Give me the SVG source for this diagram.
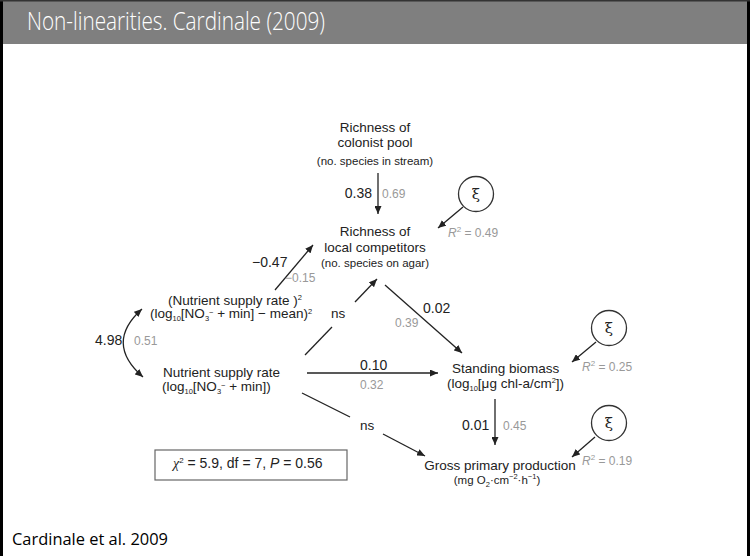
<svg xmlns="http://www.w3.org/2000/svg" width="750" height="556" viewBox="0 0 750 556">
<style>
.t{font-family:"Liberation Sans",Arial,sans-serif;fill:#222}
.m{font-size:13.5px}
.s{font-size:11.5px}
.n{font-size:14px}
.g{font-family:"Liberation Sans",Arial,sans-serif;font-size:12px;fill:#999}
.c{text-anchor:middle}
.ln{stroke:#222;stroke-width:1.3;fill:none}
.circ{stroke:#333;stroke-width:1.3;fill:none}
.xi{font-family:"DejaVu Serif","Liberation Serif",serif;font-size:15px;fill:#222;text-anchor:middle}
.slide{font-family:"Open Sans","Liberation Sans",sans-serif}
</style>
<defs>
<marker id="ah" markerUnits="userSpaceOnUse" markerWidth="9" markerHeight="7" refX="8" refY="3.5" orient="auto-start-reverse">
<path d="M0,0 L8,3.5 L0,7 z" fill="#222"/>
</marker>
</defs>
<rect x="0" y="0" width="750" height="556" fill="#fff"/>
<rect x="0" y="0" width="750" height="44" fill="#7f7f7f"/>
<line x1="1.5" y1="0" x2="1.5" y2="556" stroke="#000" stroke-width="3"/>
<line x1="748.5" y1="0" x2="748.5" y2="556" stroke="#000" stroke-width="3"/>
<line x1="0" y1="0.75" x2="750" y2="0.75" stroke="#333" stroke-width="1.5"/>
<text class="slide" x="27" y="30" font-size="25" font-weight="300" fill="#fff" textLength="298" lengthAdjust="spacingAndGlyphs">Non-linearities. Cardinale (2009)</text>
<text class="slide" x="12" y="545" font-size="17" fill="#000" textLength="156" lengthAdjust="spacingAndGlyphs">Cardinale et al. 2009</text>

<g id="connectors">
<line class="ln" x1="378" y1="173" x2="378" y2="214" marker-end="url(#ah)"/>
<line class="ln" x1="275" y1="290" x2="313" y2="245" marker-end="url(#ah)"/>
<line class="ln" x1="305" y1="355" x2="332" y2="327"/>
<line class="ln" x1="355" y1="302" x2="377" y2="279" marker-end="url(#ah)"/>
<line class="ln" x1="385" y1="285" x2="462" y2="353" marker-end="url(#ah)"/>
<line class="ln" x1="307" y1="373" x2="438" y2="373" marker-end="url(#ah)"/>
<line class="ln" x1="302" y1="393" x2="350" y2="417"/>
<line class="ln" x1="383" y1="434" x2="425" y2="456" marker-end="url(#ah)"/>
<line class="ln" x1="495" y1="399" x2="495" y2="445" marker-end="url(#ah)"/>
<line class="ln" x1="463" y1="207" x2="438" y2="228" marker-end="url(#ah)"/>
<line class="ln" x1="596" y1="342" x2="572" y2="362" marker-end="url(#ah)"/>
<line class="ln" x1="595" y1="437" x2="572" y2="457" marker-end="url(#ah)"/>
<path class="ln" d="M142,309 Q104,343 143,377" marker-start="url(#ah)" marker-end="url(#ah)"/>
<text class="t n" x="372" y="197.5" text-anchor="end">0.38</text>
<text class="g" x="382" y="197.5">0.69</text>
<text class="t n" x="252" y="266.5">−0.47</text>
<text class="g" x="285" y="281.5">−0.15</text>
<text class="t m" x="331" y="318">ns</text>
<text class="t n" x="423" y="312.5">0.02</text>
<text class="g" x="395" y="326.5">0.39</text>
<text class="t n" x="360" y="370">0.10</text>
<text class="g" x="360" y="389">0.32</text>
<text class="t m" x="360" y="430">ns</text>
<text class="t n" x="462" y="429.5">0.01</text>
<text class="g" x="503" y="429.5">0.45</text>
<text class="t n" x="95" y="345">4.98</text>
<text class="g" x="134" y="345">0.51</text>
</g>

<g id="pool">
<text class="t m c" x="375" y="131.5">Richness of</text>
<text class="t m c" x="375" y="147">colonist pool</text>
<text class="t s c" x="375" y="165">(no. species in stream)</text>
</g>

<g id="competitors">
<text class="t m c" x="375" y="236">Richness of</text>
<text class="t m c" x="375" y="252">local competitors</text>
<text class="t s c" x="375" y="267">(no. species on agar)</text>
</g>

<g id="xi1">
<circle class="circ" cx="476" cy="194" r="17.5"/>
<text class="xi" x="476" y="199">ξ</text>
<text class="g" x="448" y="237"><tspan font-style="italic">R</tspan><tspan font-size="8" dy="-5">2</tspan><tspan dy="5"> = 0.49</tspan></text>
</g>

<g id="nutrient-sq">
<text class="t m" x="168" y="304.5">(Nutrient supply rate )<tspan font-size="7.5" dy="-5">2</tspan></text>
<text class="t m" x="150" y="318">(log<tspan font-size="7.5" dy="3">10</tspan><tspan dy="-3">[NO</tspan><tspan font-size="7.5" dy="3">3</tspan><tspan font-size="7.5" dy="-6">−</tspan><tspan dy="3"> + min] − mean)</tspan><tspan font-size="7.5" dy="-4">2</tspan></text>
</g>

<g id="nutrient">
<text class="t m" x="163" y="377">Nutrient supply rate</text>
<text class="t m" x="162" y="390.5">(log<tspan font-size="7.5" dy="3">10</tspan><tspan dy="-3">[NO</tspan><tspan font-size="7.5" dy="3">3</tspan><tspan font-size="7.5" dy="-6">−</tspan><tspan dy="3"> + min])</tspan></text>
</g>

<g id="biomass">
<text class="t m" x="452" y="373">Standing biomass</text>
<text class="t m" x="447" y="387.5">(log<tspan font-size="7.5" dy="3">10</tspan><tspan dy="-3">[μg chl-a/cm</tspan><tspan font-size="7.5" dy="-5">2</tspan><tspan dy="5">])</tspan></text>
</g>

<g id="xi2">
<circle class="circ" cx="609" cy="328" r="17.5"/>
<text class="xi" x="609" y="333">ξ</text>
<text class="g" x="582" y="371"><tspan font-style="italic">R</tspan><tspan font-size="8" dy="-5">2</tspan><tspan dy="5"> = 0.25</tspan></text>
</g>

<g id="gpp">
<text class="t m c" x="500" y="470">Gross primary production</text>
<text class="t s c" x="497" y="484">(mg O<tspan font-size="7.5" dy="3">2</tspan><tspan dy="-3">·cm</tspan><tspan font-size="7.5" dy="-5">−2</tspan><tspan dy="5">·h</tspan><tspan font-size="7.5" dy="-5">−1</tspan><tspan dy="5">)</tspan></text>
</g>

<g id="xi3">
<circle class="circ" cx="609" cy="423" r="17.5"/>
<text class="xi" x="609" y="428">ξ</text>
<text class="g" x="582" y="465"><tspan font-style="italic">R</tspan><tspan font-size="8" dy="-5">2</tspan><tspan dy="5"> = 0.19</tspan></text>
</g>

<g id="fit-box">
<rect x="155" y="450" width="192" height="30" fill="#fff" stroke="#666" stroke-width="1.2"/>
<text class="t n" x="173" y="468"><tspan font-family="'Liberation Serif',serif" font-style="italic">χ</tspan><tspan font-size="8" dy="-5">2</tspan><tspan dy="5"> = 5.9, df = 7, </tspan><tspan font-style="italic">P</tspan> = 0.56</text>
</g>
</svg>
